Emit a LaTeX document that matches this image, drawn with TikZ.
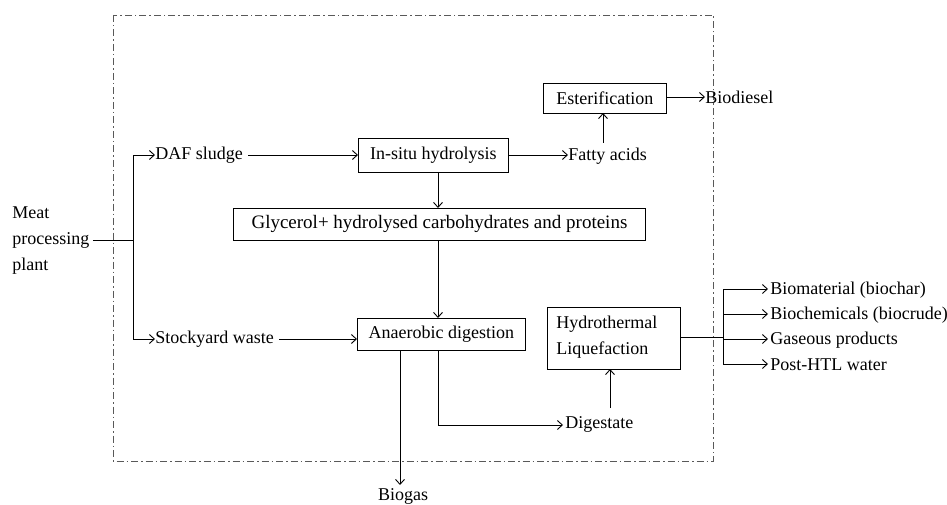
\documentclass[tikz,border=0pt]{standalone}
\usepackage{fontspec}
\setmainfont{Liberation Serif}
\usetikzlibrary{arrows.meta}
\begin{document}
\begin{tikzpicture}[x=1pt,y=-1pt,
  line width=0.9pt,
  arr/.style={-{Straight Barb[length=5pt,width=9pt]}},
  box/.style={draw,line width=0.9pt,inner sep=0pt,anchor=north west},
  txt/.style={inner sep=0pt,anchor=west},
  font=\fontsize{18}{26}\selectfont]
\useasboundingbox (0,0) rectangle (947,505);
\draw[dash pattern=on 7pt off 3pt on 1.5pt off 3pt,line width=0.7pt,gray!70!black] (113,15) rectangle (713,461);
% nodes
\node[txt,align=left,anchor=west] (meat) at (12,241) {Meat\\processing\\plant};
\coordinate (split) at (133,240);
\node[txt] (daf) at (155,155) {DAF sludge};
\node[txt] (stock) at (155,339) {Stockyard waste};
\node[box,minimum width=150pt,minimum height=34pt] (insitu) at (358,138) {};
\node at (insitu.center) {In-situ hydrolysis};
\node[txt] (fatty) at (568,156) {Fatty acids};
\node[box,minimum width=123pt,minimum height=30pt] (ester) at (543,83) {};
\node at (ester.center) {Esterification};
\node[txt] (biodiesel) at (705,97) {Biodiesel};
\node[box,minimum width=412pt,minimum height=32pt] (glyc) at (233,208) {};
\node at (glyc.center) {\fontsize{19}{26}\selectfont Glycerol+ hydrolysed carbohydrates and proteins};
\node[box,minimum width=168pt,minimum height=32pt] (ad) at (357,318) {};
\node at (ad.center) {Anaerobic digestion};
\node[box,minimum width=133pt,minimum height=62pt] (htl) at (547,307) {};
\node[txt,align=left,anchor=north west] (htltext) at (556,316) {Hydrothermal\\Liquefaction};
\node[txt] (dig) at (565,424) {Digestate};
\node[inner sep=0pt,anchor=north] (biogas) at (403,488) {Biogas};
\coordinate (hsplit) at (723,337);
\node[txt] (p1) at (770,290) {Biomaterial (biochar)};
\node[txt] (p2) at (770,315) {Biochemicals (biocrude)};
\node[txt] (p3) at (770,340) {Gaseous products};
\node[txt] (p4) at (770,365) {Post-HTL water};
% connectors
\draw (meat.east |- split) ++(3,0) -- (split);
\draw[arr] (split) |- (daf.west);
\draw[arr] (split) |- (stock.west);
\draw[arr] (daf.east) ++(5,0) -- (insitu.west |- daf.east);
\draw[arr] (stock.east) ++(5,0) -- (ad.west |- stock.east);
\draw[arr] (insitu.east |- 0,155) -- (fatty.west |- 0,155);
\draw[arr] (603,143) -- (603 ,113);
\draw[arr] (ester.east |- biodiesel.west) -- (biodiesel.west);
\draw[arr] (438,172) -- (438,208);
\draw[arr] (438,240) -- (438,318);
\draw[arr] (400,350) -- (400,485);
\draw[arr] (438,350) -- (438,425) -- (563,425);
\draw[arr] (610,408) -- (610,369);
\draw (htl.east |- hsplit) -- (hsplit);
\draw (723,289) -- (723,364);
\draw[arr] (723,289) -- (768,289);
\draw[arr] (723,314) -- (768,314);
\draw[arr] (723,339) -- (768,339);
\draw[arr] (723,364) -- (768,364);
\end{tikzpicture}
\end{document}
